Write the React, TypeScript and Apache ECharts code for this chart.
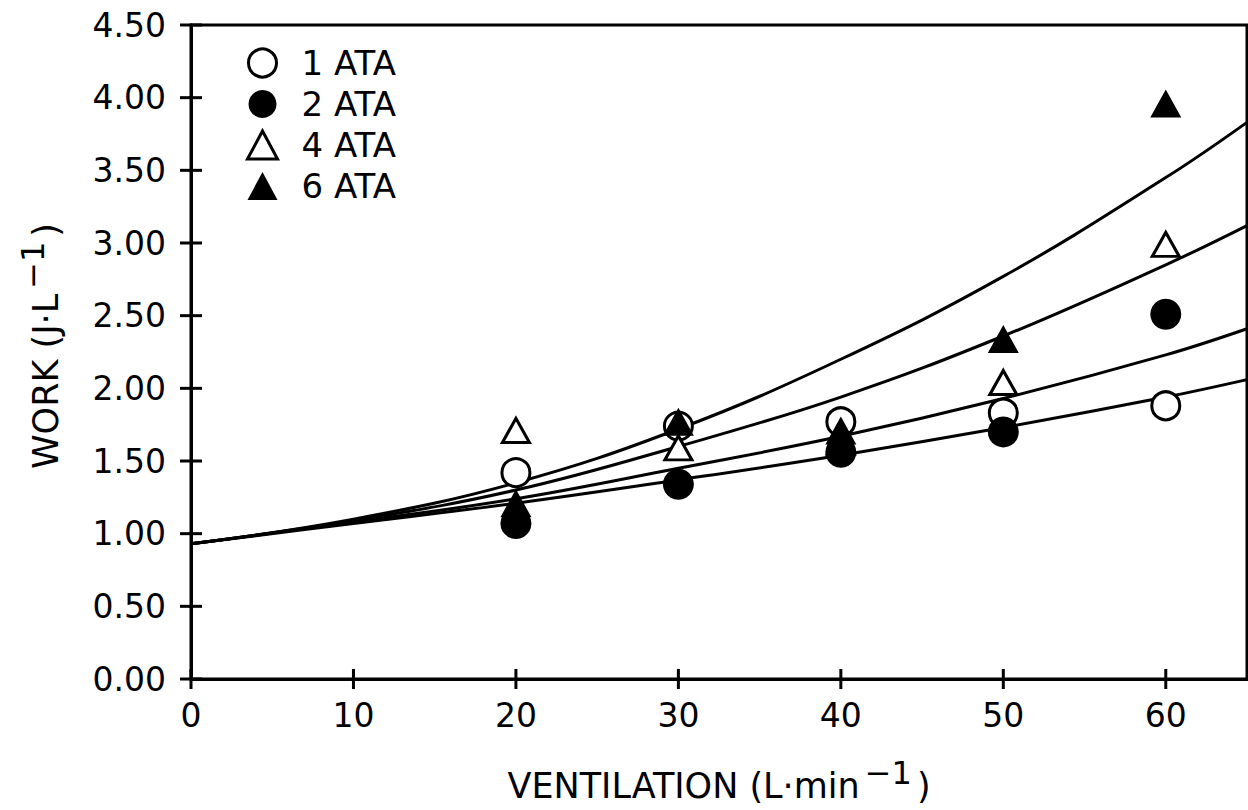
import React, { useEffect, useRef } from "react";
import * as echarts from "echarts";

// Measured points (ventilation in L·min-1, work in J·L-1)
const ventilation = [20, 30, 40, 50, 60];
const work1ATA = [1.42, 1.74, 1.77, 1.83, 1.88];
const work2ATA = [1.07, 1.34, 1.56, 1.7, 2.51];
const work4ATA = [1.71, 1.59, 1.63, 2.04, 2.99];
const work6ATA = [1.21, 1.77, 1.71, 2.34, 3.96];

// Fitted curves
const fitVentilation = [0, 10, 20, 30, 40, 50, 60, 65];
const fit1ATA = [0.93, 1.07, 1.21, 1.37, 1.54, 1.73, 1.94, 2.06];
const fit2ATA = [0.93, 1.08, 1.24, 1.45, 1.67, 1.93, 2.23, 2.41];
const fit4ATA = [0.93, 1.09, 1.3, 1.6, 1.94, 2.36, 2.85, 3.12];
const fit6ATA = [0.93, 1.1, 1.35, 1.72, 2.2, 2.77, 3.45, 3.83];

const seriesNames = ["1 ATA", "2 ATA", "4 ATA", "6 ATA"];
const xTickValues = [0, 10, 20, 30, 40, 50, 60];
const yTickValues = [0, 0.5, 1, 1.5, 2, 2.5, 3, 3.5, 4, 4.5];

const FONT = "'DejaVu Sans', sans-serif";
const BLACK = "#000";

const zip = (xs: number[], ys: number[]) => xs.map((x, i) => [x, ys[i]]);

export default function App() {
  const ref = useRef<HTMLDivElement>(null);

  useEffect(() => {
    if (!ref.current) return;
    const chart = echarts.init(ref.current, undefined, { renderer: "svg" });

    const axisLineStyle = { color: BLACK, width: 3 };
    const richTitle = {
      base: { fontSize: 35, lineHeight: 35, verticalAlign: "bottom", fontFamily: FONT, color: BLACK },
      sup: { fontSize: 32, verticalAlign: "top", padding: [0, 5, 14, 5], fontFamily: FONT, color: BLACK },
    };

    const fitLine = (data: number[]) => ({
      type: "line",
      data: zip(fitVentilation, data),
      symbol: "none",
      showSymbol: false,
      smooth: 0.4,
      silent: true,
      lineStyle: { color: BLACK, width: 3 },
      z: 2,
    });

    // crossing tick marks, positioned through the axis scales
    const tickSeries = (data: number[][], vertical: boolean, half: number) => ({
      type: "custom",
      coordinateSystem: "cartesian2d",
      data,
      clip: false,
      silent: true,
      z: 10,
      renderItem: (_params: any, api: any) => {
        const p = api.coord([api.value(0), api.value(1)]);
        return {
          type: "line",
          shape: vertical
            ? { x1: p[0], y1: p[1] - half, x2: p[0], y2: p[1] + half }
            : { x1: p[0] - half, y1: p[1], x2: p[0] + half, y2: p[1] },
          style: { stroke: BLACK, lineWidth: 3 },
        };
      },
    });

    const openStyle = { color: "#fff", borderColor: BLACK, borderWidth: 3, opacity: 1 };
    const filledStyle = { color: BLACK, borderColor: BLACK, borderWidth: 0, opacity: 1 };

    const option: any = {
      animation: false,
      backgroundColor: "#fff",
      textStyle: { fontFamily: FONT },
      grid: {
        left: 191,
        right: 1,
        top: 25,
        bottom: 131,
        outerBoundsMode: "none",
        show: true,
        borderColor: BLACK,
        borderWidth: 3,
        backgroundColor: "transparent",
      },
      legend: {
        show: true,
        orient: "vertical",
        left: 241,
        top: 41,
        itemWidth: 30,
        itemHeight: 28,
        itemGap: 7,
        selectedMode: false,
        textStyle: { fontSize: 34, color: BLACK, fontFamily: FONT, padding: [0, 0, 0, 19] },
        data: [
          { name: seriesNames[0], icon: "circle", itemStyle: openStyle },
          { name: seriesNames[1], icon: "circle", itemStyle: filledStyle },
          { name: seriesNames[2], icon: "triangle", itemStyle: openStyle },
          { name: seriesNames[3], icon: "triangle", itemStyle: filledStyle },
        ],
      },
      xAxis: {
        type: "value",
        min: 0,
        max: 65,
        interval: 10,
        position: "bottom",
        axisLine: { show: true, onZero: false, lineStyle: axisLineStyle },
        axisTick: { show: false },
        axisLabel: {
          margin: 20,
          fontSize: 33,
          color: BLACK,
          fontFamily: FONT,
          formatter: (v: number) => (xTickValues.includes(v) ? String(v) : ""),
        },
        splitLine: { show: false },
        name: "{base|VENTILATION (L·min}{sup|−1}{base|)}",
        nameLocation: "middle",
        nameGap: 78,
        nameTextStyle: { rich: richTitle },
      },
      yAxis: {
        type: "value",
        min: 0,
        max: 4.5,
        interval: 0.5,
        position: "left",
        axisLine: { show: true, onZero: false, lineStyle: axisLineStyle },
        axisTick: { show: false },
        axisLabel: {
          margin: 25,
          fontSize: 33,
          color: BLACK,
          fontFamily: FONT,
          formatter: (v: number) => v.toFixed(2),
        },
        splitLine: { show: false },
        name: "{base|WORK (J·L}{sup|−1}{base|)}",
        nameLocation: "middle",
        nameGap: 128,
        nameRotate: 90,
        nameTextStyle: { rich: richTitle, padding: [0, 0, 0, 12] },
      },
      series: [
        tickSeries(xTickValues.map((v) => [v, 0]), true, 10),
        tickSeries(yTickValues.map((v) => [0, v]), false, 11),
        fitLine(fit1ATA),
        fitLine(fit2ATA),
        fitLine(fit4ATA),
        fitLine(fit6ATA),
        { name: seriesNames[0], type: "scatter", data: zip(ventilation, work1ATA), symbol: "circle", symbolSize: 28, itemStyle: openStyle, z: 3 },
        { name: seriesNames[2], type: "scatter", data: zip(ventilation, work4ATA), symbol: "triangle", symbolSize: [27, 24], itemStyle: openStyle, z: 3 },
        { name: seriesNames[1], type: "scatter", data: zip(ventilation, work2ATA), symbol: "circle", symbolSize: 31, itemStyle: filledStyle, z: 4 },
        { name: seriesNames[3], type: "scatter", data: zip(ventilation, work6ATA), symbol: "triangle", symbolSize: [31, 28], itemStyle: filledStyle, z: 4 },
      ],
    };

    chart.setOption(option);
    return () => chart.dispose();
  }, []);

  return (
    <div
      ref={ref}
      style={{ position: "fixed", left: 0, top: 0, width: 1248, height: 810, background: "#fff" }}
    />
  );
}
